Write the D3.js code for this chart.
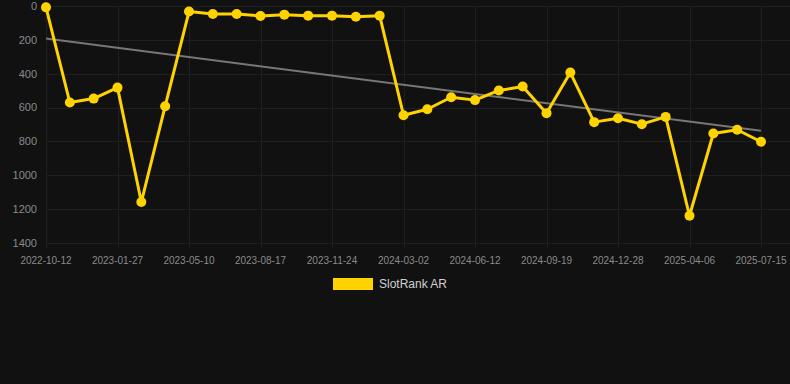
<!DOCTYPE html>
<html>
<head>
<meta charset="utf-8">
<script src="https://cdn.jsdelivr.net/npm/d3@7"></script>
<style>
  html, body { margin: 0; padding: 0; background: #111111; }
  #chart { width: 790px; height: 384px; }
  text { font-family: "Liberation Sans", Arial, sans-serif; }
</style>
</head>
<body>
<div id="chart"></div>
<script>
// categories (one per observation), only every third one gets a label
const dates = [
  "2022-10-12", "2022-11-17", "2022-12-22", "2023-01-27", "2023-03-03", "2023-04-06",
  "2023-05-10", "2023-06-12", "2023-07-15", "2023-08-17", "2023-09-19", "2023-10-22",
  "2023-11-24", "2023-12-27", "2024-01-29", "2024-03-02", "2024-04-05", "2024-05-09",
  "2024-06-12", "2024-07-15", "2024-08-17", "2024-09-19", "2024-10-22", "2024-11-25",
  "2024-12-28", "2025-01-30", "2025-03-04", "2025-04-06", "2025-05-09", "2025-06-12",
  "2025-07-15"
];

// rank values for "SlotRank AR"
const rankValues = [
  8, 570, 547, 482, 1158, 592, 33, 47, 47, 59, 51, 57, 57, 63, 57,
  645, 610, 539, 556, 499, 476, 633, 393, 686, 663, 698, 655, 1239, 753, 731, 802
];

const yTicks = [0, 200, 400, 600, 800, 1000, 1200, 1400];
const seriesName = "SlotRank AR";

const W = 790, H = 384;
const plot = {left: 46, right: 761, top: 6, bottom: 243};

const svg = d3.select("#chart").append("svg")
    .attr("width", W)
    .attr("height", H);

svg.append("rect").attr("width", W).attr("height", H).attr("fill", "#111111");

const x = d3.scalePoint()
    .domain(dates)
    .range([plot.left, plot.right]);

const y = d3.scaleLinear()
    .domain([0, 1400])
    .range([plot.top, plot.bottom]);

const shownDates = dates.filter((d, i) => i % 3 === 0);

// grid lines
svg.append("g")
    .selectAll("line")
    .data(yTicks)
    .join("line")
    .attr("x1", plot.left)
    .attr("x2", W)
    .attr("y1", d => Math.round(y(d)) + 0.5)
    .attr("y2", d => Math.round(y(d)) + 0.5)
    .attr("stroke", "#1f1f1f")
    .attr("stroke-width", 1);

svg.append("g")
    .selectAll("line")
    .data(shownDates)
    .join("line")
    .attr("x1", d => Math.round(x(d)) + 0.5)
    .attr("x2", d => Math.round(x(d)) + 0.5)
    .attr("y1", plot.top)
    .attr("y2", plot.bottom + 6)
    .attr("stroke", "#1f1f1f")
    .attr("stroke-width", 1);

// y axis labels
svg.append("g")
    .selectAll("text")
    .data(yTicks)
    .join("text")
    .attr("x", 37)
    .attr("y", d => y(d))
    .attr("dy", "0.35em")
    .attr("text-anchor", "end")
    .attr("font-size", 11)
    .attr("fill", "#8a8a8a")
    .text(d => d);

// x axis labels
svg.append("g")
    .selectAll("text")
    .data(shownDates)
    .join("text")
    .attr("x", d => x(d))
    .attr("y", 260)
    .attr("dy", "0.35em")
    .attr("text-anchor", "middle")
    .attr("font-size", 10)
    .attr("fill", "#8a8a8a")
    .text(d => d);

// linear trend (least squares over index)
const n = rankValues.length;
const meanX = d3.mean(rankValues, (v, i) => i);
const meanY = d3.mean(rankValues);
let sxy = 0, sxx = 0;
rankValues.forEach((v, i) => {
  sxy += (i - meanX) * (v - meanY);
  sxx += (i - meanX) * (i - meanX);
});
const slope = sxy / sxx;
const intercept = meanY - slope * meanX;

svg.append("line")
    .attr("x1", x(dates[0]))
    .attr("y1", y(intercept))
    .attr("x2", x(dates[n - 1]))
    .attr("y2", y(intercept + slope * (n - 1)))
    .attr("stroke", "#777777")
    .attr("stroke-width", 2);

// series line
const line = d3.line()
    .x((d, i) => x(dates[i]))
    .y(d => y(d));

svg.append("path")
    .datum(rankValues)
    .attr("d", line)
    .attr("fill", "none")
    .attr("stroke", "#FFD300")
    .attr("stroke-width", 3)
    .attr("stroke-linejoin", "round");

svg.append("g")
    .selectAll("circle")
    .data(rankValues)
    .join("circle")
    .attr("cx", (d, i) => x(dates[i]))
    .attr("cy", d => y(d))
    .attr("r", 5)
    .attr("fill", "#FFD300");

// legend
const legend = svg.append("g");
legend.append("rect")
    .attr("x", 333)
    .attr("y", 278)
    .attr("width", 40)
    .attr("height", 12)
    .attr("fill", "#FFD300");
legend.append("text")
    .attr("x", 379)
    .attr("y", 284)
    .attr("dy", "0.35em")
    .attr("font-size", 12)
    .attr("fill", "#d0d0d0")
    .text(seriesName);
</script>
</body>
</html>
